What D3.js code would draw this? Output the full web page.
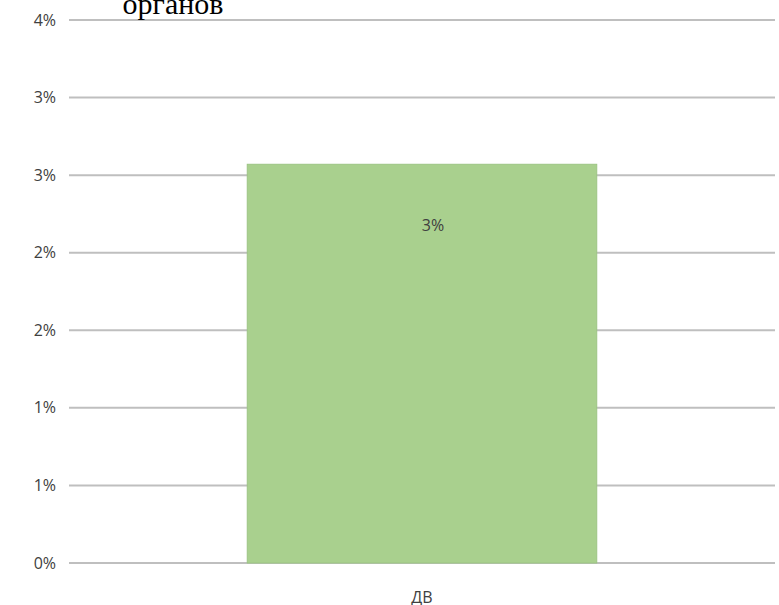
<!DOCTYPE html>
<html lang="ru">
<head>
<meta charset="UTF-8">
<title>ДВ</title>
<script src="https://d3js.org/d3.v7.min.js"></script>
<style>
  body { margin: 0; background: #fff; }
  .tick-label { font-family: "Open Sans", "Liberation Sans", sans-serif; font-size: 16px; fill: #404040; }
  .title { font-family: "Liberation Serif", "Times New Roman", serif; font-size: 30px; fill: #000; }
</style>
</head>
<body>
<svg id="chart" width="779" height="605"></svg>
<script>
// data
const categories = ["ДВ"];
const values = [2.57];            // percent
const valueLabels = ["3%"];
const tickValues = [0, 0.5, 1, 1.5, 2, 2.5, 3, 3.5];
const tickLabels = ["0%", "1%", "1%", "2%", "2%", "3%", "3%", "4%"];
const titleTail = "органов";

const svg = d3.select("#chart");
const plotLeft = 69, plotRight = 775, plotTop = 20, plotBottom = 563;

const y = d3.scaleLinear().domain([0, 3.5]).range([plotBottom, plotTop]);
const x = d3.scaleBand().domain(categories).range([plotLeft, plotRight])
    .paddingInner(0).paddingOuter(0.51);

// gridlines
svg.append("g").selectAll("line")
    .data(tickValues)
    .join("line")
    .attr("x1", plotLeft).attr("x2", plotRight)
    .attr("y1", d => y(d)).attr("y2", d => y(d))
    .attr("stroke", "#bfbfbf")
    .attr("stroke-width", 2);

// y labels
svg.append("g").selectAll("text")
    .data(tickValues)
    .join("text")
    .attr("class", "tick-label")
    .attr("x", 56)
    .attr("y", d => y(d))
    .attr("dy", "0.35em")
    .attr("text-anchor", "end")
    .text((d, i) => tickLabels[i]);

// bars
svg.append("g").selectAll("rect")
    .data(values)
    .join("rect")
    .attr("x", (d, i) => x(categories[i]))
    .attr("width", x.bandwidth())
    .attr("y", d => y(d))
    .attr("height", d => y(0) - y(d))
    .attr("fill", "#a9d08e")
    .attr("stroke", "#9cc584")
    .attr("stroke-width", 1);

// value labels
svg.append("g").selectAll("text")
    .data(values)
    .join("text")
    .attr("class", "tick-label")
    .attr("x", (d, i) => x(categories[i]) + x.bandwidth() / 2 + 11)
    .attr("y", d => y(d) + 61)
    .attr("dy", "0.35em")
    .attr("text-anchor", "middle")
    .text((d, i) => valueLabels[i]);

// category labels
svg.append("g").selectAll("text")
    .data(categories)
    .join("text")
    .attr("class", "tick-label")
    .attr("x", d => x(d) + x.bandwidth() / 2)
    .attr("y", 597)
    .attr("dy", "0.35em")
    .attr("text-anchor", "middle")
    .text(d => d);

// title (only the last line is visible)
svg.append("text")
    .attr("class", "title")
    .attr("x", 173)
    .attr("y", 14)
    .attr("text-anchor", "middle")
    .text(titleTail);
</script>
</body>
</html>
